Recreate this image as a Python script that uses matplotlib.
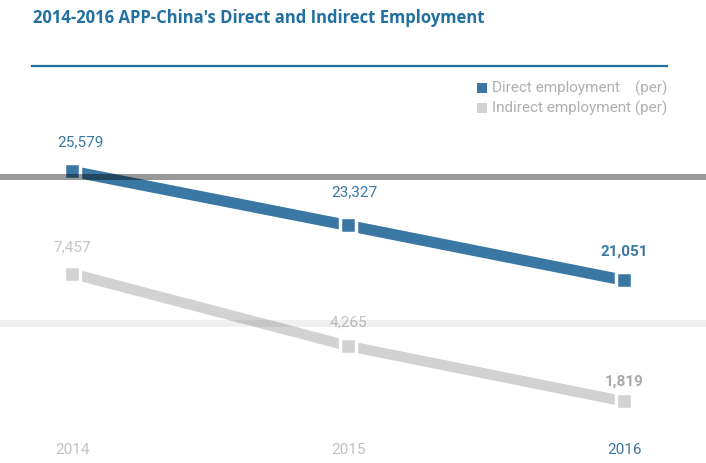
import matplotlib
matplotlib.use("Agg")
import matplotlib.pyplot as plt
from matplotlib.lines import Line2D
from matplotlib.patches import Rectangle

years = ["2014", "2015", "2016"]
direct = [25579, 23327, 21051]
indirect = [7457, 4265, 1819]
direct_labels = ["25,579", "23,327", "21,051"]
indirect_labels = ["7,457", "4,265", "1,819"]

BLUE = "#3a77a3"
GREY = "#d2d2d2"
TITLE_BLUE = "#2170a0"

W, H = 706, 463
fig = plt.figure(figsize=(W / 100, H / 100), dpi=100)
plt.rcParams["font.family"] = ["Roboto", "DejaVu Sans"]

x = list(range(len(years)))

ax1 = fig.add_axes([0, 0, 1, 1])
ax1.set_xlim(-0.261, 2.297)
ax1.set_ylim(13458, 32696)
ax1.axis("off")

ax2 = ax1.twinx()
ax2.set_xlim(-0.261, 2.297)
ax2.set_ylim(-898, 19528)
ax2.axis("off")

ax2.plot(x, indirect, color=GREY, lw=7.5, solid_capstyle="butt", zorder=1)
ax2.plot(x, indirect, ls="none", marker="s", ms=11.5, mfc=GREY,
         mec="white", mew=2.5, zorder=2)
ax1.plot(x, direct, color=BLUE, lw=8, solid_capstyle="butt", zorder=1)
ax1.plot(x, direct, ls="none", marker="s", ms=11.5, mfc=BLUE,
         mec="white", mew=2.5, zorder=2)


def px(v):
    return v * 0.72


d_off = [(8, 29), (6, 33), (0, 29)]
for i, (v, lab) in enumerate(zip(direct, direct_labels)):
    bold = i == len(direct) - 1
    ax1.annotate(lab, (x[i], v), xytext=(px(d_off[i][0]), px(d_off[i][1])),
                 textcoords="offset points", ha="center", va="center",
                 fontsize=11, color=BLUE,
                 fontweight="bold" if bold else "normal")

i_off = [(0, 26), (0, 24), (0, 20)]
i_cols = ["#c4c4c4", "#c4c4c4", "#a9a9a9"]
for i, (v, lab) in enumerate(zip(indirect, indirect_labels)):
    bold = i == len(indirect) - 1
    ax2.annotate(lab, (x[i], v), xytext=(px(i_off[i][0]), px(i_off[i][1])),
                 textcoords="offset points", ha="center", va="center",
                 fontsize=11, color=i_cols[i],
                 fontweight="bold" if bold else "normal")

# year labels along the bottom
for i, yr in enumerate(years):
    col = BLUE if i == len(years) - 1 else "#c0c0c0"
    ax1.annotate(yr, (x[i], 0), xycoords=("data", "figure fraction"),
                 xytext=(0, px(13)), textcoords="offset points",
                 ha="center", va="center", fontsize=11, color=col)

# horizontal bands (overlay)
fig.add_artist(Rectangle((0, 1 - 180 / H), 1, 6 / H, transform=fig.transFigure,
                         color="black", alpha=0.4, lw=0, zorder=5))
fig.add_artist(Rectangle((0, 1 - 327 / H), 1, 7 / H, transform=fig.transFigure,
                         color="black", alpha=0.06, lw=0, zorder=5))

# title and rule
fig.text(33 / W, 1 - 18 / H, "2014-2016 APP-China's Direct and Indirect Employment",
         ha="left", va="center", fontsize=12, fontweight="bold",
         color=TITLE_BLUE, family=["Open Sans", "DejaVu Sans"])
fig.add_artist(Line2D([32 / W, 667 / W], [1 - 66 / H, 1 - 66 / H],
                      transform=fig.transFigure, color=TITLE_BLUE, lw=1.6))

# legend
for j, (lab, col) in enumerate([("Direct employment    (per)", BLUE),
                                ("Indirect employment (per)", GREY)]):
    yy = 88 + 20 * j
    fig.add_artist(Rectangle((477 / W, 1 - (yy + 5) / H), 10 / W, 10 / H,
                             transform=fig.transFigure, color=col, lw=0))
    fig.text(492 / W, 1 - yy / H, lab, ha="left", va="center",
             fontsize=11, color="#b0b0b0")

fig.savefig("out.png", dpi=100)
